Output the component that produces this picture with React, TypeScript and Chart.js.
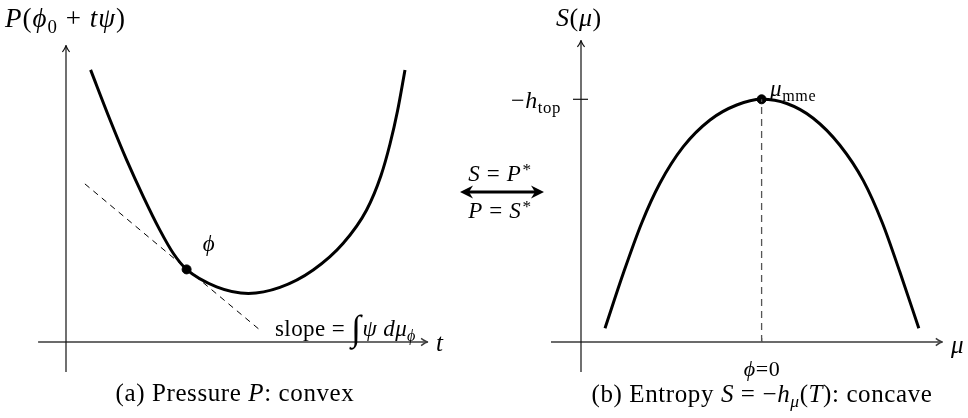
import React, { useEffect, useRef } from "react";
import { Chart, registerables } from "chart.js";

Chart.register(...registerables);

// ---------- Left panel: pressure P(phi0 + t psi), convex ----------
const pressureT = [0.82, 1.47, 2.02, 2.58, 3.13, 3.58, 4.02, 5.02, 6.08, 7.13, 8.24, 9.24, 10.02, 10.5, 10.8, 11.05, 11.3];
const pressureP = [9.07, 7.4, 6.07, 4.84, 3.73, 2.95, 2.42, 1.84, 1.62, 1.82, 2.4, 3.29, 4.4, 5.55, 6.6, 7.7, 9.07];
const tangentT = [0.63, 6.44];
const tangentP = [5.27, 0.42];
const phiT = [4.02];
const phiP = [2.42];
const leftXAxis = [-0.93, 12.07];
const leftYAxis = [-1, 9.9];

// ---------- Right panel: entropy S(mu), concave ----------
const entropyMu = [0.8, 1.41, 2.02, 2.63, 3.41, 4.3, 5.19, 6.02, 6.86, 7.74, 8.63, 9.41, 10.05, 10.63, 11.26];
const entropyS = [0.46, 2.29, 3.96, 5.29, 6.51, 7.4, 7.9, 8.09, 7.95, 7.46, 6.56, 5.38, 3.96, 2.33, 0.46];
const mmeMu = [6.02];
const mmeS = [8.09];
const dropMu = [6.02, 6.02];
const dropS = [0, 8.09];
const rightXAxis = [-1, 12.06];
const rightYAxis = [-1, 10.07];
const rightYTicks = [8.09];
const rightXTicks = [6.02];

const pts = (xs: number[], ys: number[]) => xs.map((x, i) => ({ x, y: ys[i] }));

const SERIF = "'Liberation Serif', 'Times New Roman', serif";

function arrowHead(ctx: CanvasRenderingContext2D, x: number, y: number, dx: number, dy: number) {
  const len = 7;
  const w = 3.6;
  const px = -dy;
  const py = dx;
  ctx.beginPath();
  ctx.moveTo(x - dx * len + px * w, y - dy * len + py * w);
  ctx.quadraticCurveTo(x - dx * 2, y - dy * 2, x, y);
  ctx.quadraticCurveTo(x - dx * 2, y - dy * 2, x - dx * len - px * w, y - dy * len - py * w);
  ctx.stroke();
}

const axesPlugin = {
  id: "axesArrows",
  beforeDatasetsDraw(chart: any, _args: any, opts: any) {
    const { ctx, scales } = chart;
    const xs = scales.x;
    const ys = scales.y;
    const x0 = xs.getPixelForValue(0);
    const y0 = ys.getPixelForValue(0);
    ctx.save();
    ctx.lineCap = "butt";
    // x axis
    ctx.strokeStyle = "#3a3a3a";
    ctx.lineWidth = 1.4;
    const xa = xs.getPixelForValue(opts.xAxis[0]);
    const xb = xs.getPixelForValue(opts.xAxis[1]);
    ctx.beginPath();
    ctx.moveTo(xa, y0);
    ctx.lineTo(xb - 1, y0);
    ctx.stroke();
    arrowHead(ctx, xb, y0, 1, 0);
    // y axis
    ctx.strokeStyle = "#111";
    ctx.lineWidth = 1.2;
    const ya = ys.getPixelForValue(opts.yAxis[0]);
    const yb = ys.getPixelForValue(opts.yAxis[1]);
    ctx.beginPath();
    ctx.moveTo(x0, ya);
    ctx.lineTo(x0, yb + 1);
    ctx.stroke();
    arrowHead(ctx, x0, yb, 0, -1);
    // ticks
    (opts.yTicks || []).forEach((v: number) => {
      const py = ys.getPixelForValue(v);
      ctx.beginPath();
      ctx.moveTo(x0 - 8, py);
      ctx.lineTo(x0 + 7, py);
      ctx.stroke();
    });
    (opts.xTicks || []).forEach((v: number) => {
      const px = xs.getPixelForValue(v);
      ctx.beginPath();
      ctx.moveTo(px, y0);
      ctx.lineTo(px, y0 - 4);
      ctx.stroke();
    });
    ctx.restore();
  },
};

function baseOptions(pad: any, xmin: number, xmax: number, axes: any) {
  return {
    responsive: false,
    maintainAspectRatio: false,
    animation: false as const,
    layout: { padding: pad },
    scales: {
      x: { type: "linear" as const, min: xmin, max: xmax, display: false },
      y: { type: "linear" as const, min: -1, max: 11, display: false },
    },
    plugins: {
      legend: { display: false },
      tooltip: { enabled: false },
      axesArrows: axes,
    },
  };
}

function LeftChart() {
  const ref = useRef<HTMLCanvasElement>(null);
  useEffect(() => {
    if (!ref.current) return;
    const chart = new Chart(ref.current, {
      type: "scatter",
      data: {
        datasets: [
          {
            data: pts(tangentT, tangentP),
            showLine: true,
            borderColor: "#000",
            borderWidth: 1,
            borderDash: [6, 5],
            pointRadius: 0,
            clip: false,
          },
          {
            data: pts(pressureT, pressureP),
            showLine: true,
            borderColor: "#000",
            borderWidth: 3,
            pointRadius: 0,
            cubicInterpolationMode: "monotone",
            clip: false,
          },
          {
            data: pts(phiT, phiP),
            pointRadius: 4.5,
            pointBackgroundColor: "#000",
            pointBorderColor: "#000",
            clip: false,
          },
        ],
      } as any,
      options: baseOptions({ left: 36, right: 28, top: 12, bottom: 46 }, -1, 13, {
        xAxis: leftXAxis,
        yAxis: leftYAxis,
      }) as any,
      plugins: [axesPlugin],
    });
    return () => chart.destroy();
  }, []);
  return <canvas ref={ref} width={484} height={418} style={{ position: "absolute", left: 0, top: 0 }} />;
}

function RightChart() {
  const ref = useRef<HTMLCanvasElement>(null);
  useEffect(() => {
    if (!ref.current) return;
    const chart = new Chart(ref.current, {
      type: "scatter",
      data: {
        datasets: [
          {
            data: pts(dropMu, dropS),
            showLine: true,
            borderColor: "#555",
            borderWidth: 1.3,
            borderDash: [7, 5],
            pointRadius: 0,
            clip: false,
          },
          {
            data: pts(entropyMu, entropyS),
            showLine: true,
            borderColor: "#000",
            borderWidth: 3,
            pointRadius: 0,
            cubicInterpolationMode: "monotone",
            clip: false,
          },
          {
            data: pts(mmeMu, mmeS),
            pointRadius: 4.5,
            pointBackgroundColor: "#000",
            pointBorderColor: "#000",
            clip: false,
          },
        ],
      } as any,
      options: baseOptions({ left: 7, right: 12, top: 12, bottom: 46 }, -3, 12.5, {
        xAxis: rightXAxis,
        yAxis: rightYAxis,
        yTicks: rightYTicks,
        xTicks: rightXTicks,
      }) as any,
      plugins: [axesPlugin],
    });
    return () => chart.destroy();
  }, []);
  return <canvas ref={ref} width={484} height={418} style={{ position: "absolute", left: 484, top: 0 }} />;
}

type Anchor = "left" | "center" | "right";
function Label(props: { x: number; y: number; anchor?: Anchor; size?: number; spacing?: number; children: any }) {
  const { x, y, anchor = "left", size = 25, spacing = 0.6, children } = props;
  const tx = anchor === "left" ? "0" : anchor === "center" ? "-50%" : "-100%";
  return (
    <div
      style={{
        position: "absolute",
        left: x,
        top: y,
        transform: `translate(${tx}, -50%)`,
        whiteSpace: "nowrap",
        fontFamily: SERIF,
        fontSize: size,
        lineHeight: 1,
        letterSpacing: spacing,
        color: "#000",
      }}
    >
      {children}
    </div>
  );
}

const Sub = ({ children }: { children: any }) => (
  <span style={{ fontSize: "0.7em", position: "relative", top: "0.3em" }}>{children}</span>
);
const Sup = ({ children }: { children: any }) => (
  <span style={{ fontSize: "0.75em", position: "relative", top: "-0.35em", marginLeft: 1 }}>{children}</span>
);
const I = ({ children }: { children: any }) => <i>{children}</i>;

export default function App() {
  useEffect(() => {
    document.body.style.margin = "0";
  }, []);
  return (
    <div style={{ position: "absolute", left: 0, top: 0, width: 968, height: 418, background: "#fff", overflow: "hidden" }}>
      <LeftChart />
      <RightChart />

      {/* middle duality arrow */}
      <svg style={{ position: "absolute", left: 455, top: 182 }} width={95} height={20}>
        <line x1={14} y1={10} x2={80} y2={10} stroke="#000" strokeWidth={3} />
        <path d="M5 10 L18 3.5 L14 10 L18 16.5 Z" fill="#000" />
        <path d="M89 10 L76 3.5 L80 10 L76 16.5 Z" fill="#000" />
      </svg>
      <Label x={500} y={173} anchor="center" size={23}>
        <I>S</I> = <I>P</I>
        <Sup>*</Sup>
      </Label>
      <Label x={500} y={210} anchor="center" size={23}>
        <I>P</I> = <I>S</I>
        <Sup>*</Sup>
      </Label>

      {/* left panel labels */}
      <Label x={5} y={18} size={27} spacing={1}>
        <I>P</I>(<I>ϕ</I>
        <Sub>0</Sub> + <I>tψ</I>)
      </Label>
      <Label x={436} y={342}>
        <I>t</I>
      </Label>
      <Label x={209} y={243} anchor="center" size={23}>
        <I>ϕ</I>
      </Label>
      <Label x={275} y={325} size={23} spacing={0.4}>
        slope ={" "}
        <span style={{ fontSize: "1.55em", position: "relative", top: "0.12em", marginRight: 1 }}>∫</span>
        <I>ψ</I> <I>dμ</I>
        <Sub>
          <I>ϕ</I>
        </Sub>
      </Label>
      <Label x={235} y={392} anchor="center" size={25}>
        (a) Pressure <I>P</I>: convex
      </Label>

      {/* right panel labels */}
      <Label x={556} y={18} size={26}>
        <I>S</I>(<I>μ</I>)
      </Label>
      <Label x={951} y={344}>
        <I>μ</I>
      </Label>
      <Label x={561} y={100} anchor="right" size={24}>
        −<I>h</I>
        <Sub>top</Sub>
      </Label>
      <Label x={770} y={88} size={23}>
        <I>μ</I>
        <Sub>mme</Sub>
      </Label>
      <Label x={762} y={369} anchor="center" size={22}>
        <I>ϕ</I>=0
      </Label>
      <Label x={762} y={393} anchor="center" size={25}>
        (b) Entropy <I>S</I> = −<I>h</I>
        <Sub>
          <I>μ</I>
        </Sub>
        (<I>T</I>): concave
      </Label>
    </div>
  );
}
